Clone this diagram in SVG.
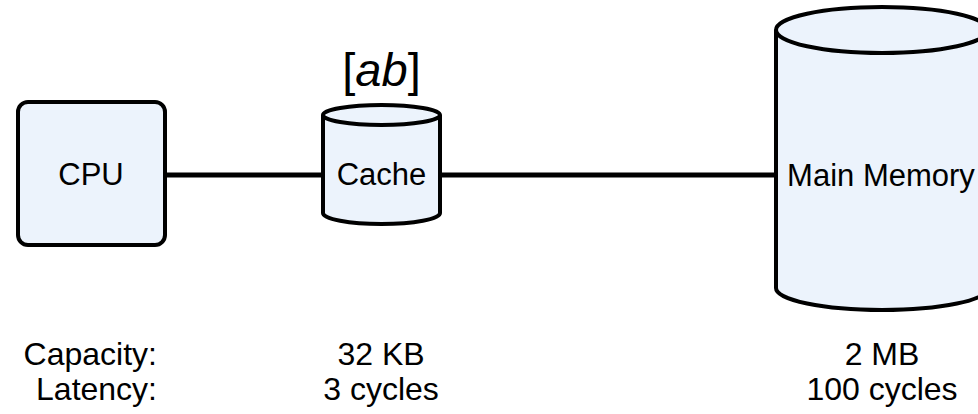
<svg xmlns="http://www.w3.org/2000/svg" width="978" height="414" viewBox="0 0 978 414">
<style>
  .shape { fill: #ECF3FC; stroke: #000; stroke-width: 4; }
  .rim { fill: none; stroke: #000; stroke-width: 4; }
  .lbl { font-family: "Liberation Sans", Arial, sans-serif; font-size: 31px; fill: #000; }
  .sm { font-size: 32px; }
  .c { text-anchor: middle; }
  .e { text-anchor: end; }
  .conn { stroke: #000; stroke-width: 5; fill: none; }
</style>
<rect width="978" height="414" fill="#fff"/>
<g id="connectors">
  <line class="conn" x1="165" y1="175" x2="323" y2="175"/>
  <line class="conn" x1="440" y1="175" x2="776" y2="175"/>
</g>
<g id="cpu">
  <rect class="shape" x="18" y="102" width="147" height="143" rx="10" ry="10"/>
  <text class="lbl c" x="91" y="185">CPU</text>
</g>
<g id="cache">
  <path class="shape" d="M323,115 A58.5,10 0 0 1 440,115 L440,213 A58.5,11 0 0 1 323,213 Z"/>
  <path class="rim" d="M323,115 A58.5,10 0 0 0 440,115"/>
  <text class="lbl c" x="381.5" y="185">Cache</text>
  <text x="381.5" y="86" text-anchor="middle" font-family="Liberation Sans, Arial, sans-serif" font-size="47" fill="#000">[<tspan font-style="italic">ab</tspan>]</text>
</g>
<g id="main-memory">
  <path class="shape" d="M776,30 A106,23 0 0 1 988,30 L988,288 A106,22 0 0 1 776,288 Z"/>
  <path class="rim" d="M776,30 A106,23 0 0 0 988,30"/>
  <text class="lbl c" x="881" y="186">Main Memory</text>
</g>
<g id="labels">
  <text class="lbl sm e" x="157" y="365">Capacity:</text>
  <text class="lbl sm e" x="157" y="400">Latency:</text>
  <text class="lbl sm c" x="381" y="365">32 KB</text>
  <text class="lbl sm c" x="381" y="400">3 cycles</text>
  <text class="lbl sm c" x="882" y="365">2 MB</text>
  <text class="lbl sm c" x="882" y="400">100 cycles</text>
</g>
</svg>
